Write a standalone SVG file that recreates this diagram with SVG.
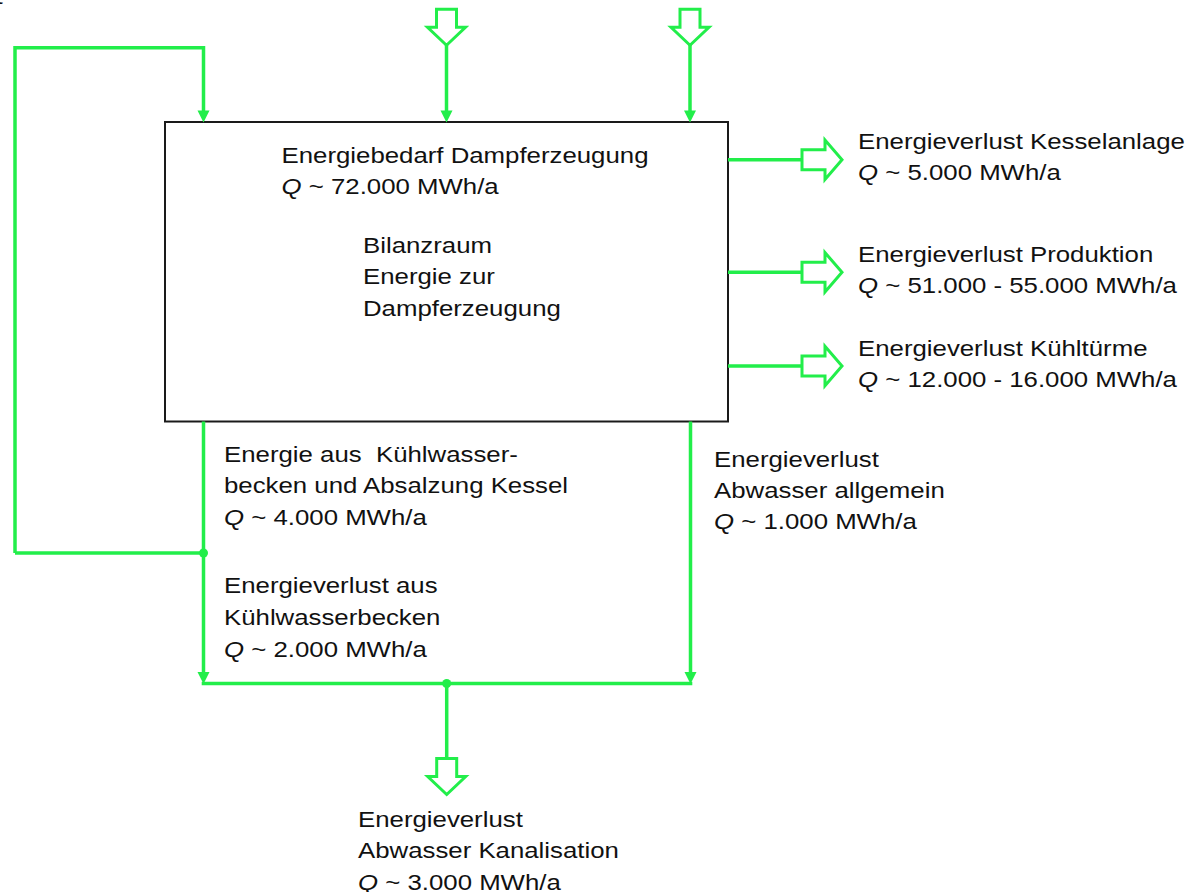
<svg xmlns="http://www.w3.org/2000/svg" xmlns:xlink="http://www.w3.org/1999/xlink" width="1190" height="892" viewBox="0 0 1190 892">
<style>
  .t { font-family: "Liberation Sans", Arial, Helvetica, sans-serif; font-size: 21.5px; fill: #111111; white-space: pre; }
  .q { font-style: italic; }
  .ln { fill: none; stroke: #22ee4a; stroke-width: 3.5; stroke-linejoin: miter; }
  .ha { fill: #ffffff; stroke: #22ee4a; stroke-width: 3; stroke-linejoin: miter; }
  .ah { fill: #22ee4a; stroke: none; }
  .box { fill: #ffffff; stroke: #1a1a1a; stroke-width: 2; }
</style>
<defs>
  <path id="tri" d="M0,0 L-6,-12 L6,-12 Z"/>
  <path id="hdown" d="M-10,0 H10 V18 H19 L0,36 L-19,18 H-10 Z"/>
  <path id="hright" d="M0,-10 H23 V-19.7 L40,0 L23,19.7 V10 H0 Z"/>
</defs>
<rect width="1190" height="892" fill="#ffffff"/>

<g id="top-cut-label">
  <text class="t" transform="translate(-12,-1) scale(1.2,1)"><tspan class="q">Q</tspan> ~ 72.000 MWh/a</text>
</g>

<g id="bilanzraum">
  <rect class="box" x="165" y="122" width="563" height="299.5"/>
  <text class="t" transform="translate(281.5,163.3) scale(1.2,1)"><tspan x="0" y="0">Energiebedarf Dampferzeugung</tspan><tspan x="0" y="30.5"><tspan class="q">Q</tspan> ~ 72.000 MWh/a</tspan></text>
  <text class="t" transform="translate(363,253) scale(1.2,1)"><tspan x="0" y="0">Bilanzraum</tspan><tspan x="0" y="31.5">Energie zur</tspan><tspan x="0" y="63">Dampferzeugung</tspan></text>
</g>

<g id="connectors">
  <path class="ln" d="M15,553 V47.7 H203.5 V112"/>
  <use href="#tri" class="ah" x="203.5" y="122.5"/>
  <use href="#hdown" class="ha" x="446.5" y="9.3"/>
  <path class="ln" d="M446.5,45 V112"/>
  <use href="#tri" class="ah" x="446.5" y="122.5"/>
  <use href="#hdown" class="ha" x="690" y="9.3"/>
  <path class="ln" d="M690,45 V112"/>
  <use href="#tri" class="ah" x="690" y="122.5"/>
  <path class="ln" d="M728,159.7 H802"/>
  <use href="#hright" class="ha" x="802" y="159.7"/>
  <path class="ln" d="M728,272.3 H802"/>
  <use href="#hright" class="ha" x="802" y="272.3"/>
  <path class="ln" d="M728,366 H802"/>
  <use href="#hright" class="ha" x="802" y="366"/>
  <path class="ln" d="M203.5,421.5 V674"/>
  <use href="#tri" class="ah" x="203.5" y="684"/>
  <path class="ln" d="M690.5,421.5 V674"/>
  <use href="#tri" class="ah" x="690.5" y="684"/>
  <path class="ln" d="M15,553 H203.5"/>
  <path class="ln" d="M201.7,683.5 H692.3"/>
  <path class="ln" d="M446.7,683.5 V758.5"/>
  <use href="#hdown" class="ha" x="446.7" y="758.5"/>
  <circle class="ah" cx="203.5" cy="553" r="4.5"/>
  <circle class="ah" cx="446.7" cy="683.5" r="4.5"/>
</g>

<g id="loss-kesselanlage">
  <text class="t" transform="translate(858,149.3) scale(1.2,1)"><tspan x="0" y="0">Energieverlust Kesselanlage</tspan><tspan x="0" y="30.7"><tspan class="q">Q</tspan> ~ 5.000 MWh/a</tspan></text>
</g>
<g id="loss-produktion">
  <text class="t" transform="translate(858,261.7) scale(1.2,1)"><tspan x="0" y="0">Energieverlust Produktion</tspan><tspan x="0" y="31"><tspan class="q">Q</tspan> ~ 51.000 - 55.000 MWh/a</tspan></text>
</g>
<g id="loss-kuehltuerme">
  <text class="t" transform="translate(858,356) scale(1.2,1)"><tspan x="0" y="0">Energieverlust Kühltürme</tspan><tspan x="0" y="30.7"><tspan class="q">Q</tspan> ~ 12.000 - 16.000 MWh/a</tspan></text>
</g>
<g id="energie-kuehlwasser">
  <text class="t" transform="translate(224,461.7) scale(1.2,1)"><tspan x="0" y="0">Energie aus  Kühlwasser-</tspan><tspan x="0" y="31.6">becken und Absalzung Kessel</tspan><tspan x="0" y="63.3"><tspan class="q">Q</tspan> ~ 4.000 MWh/a</tspan></text>
</g>
<g id="verlust-kuehlwasserbecken">
  <text class="t" transform="translate(224,593.3) scale(1.2,1)"><tspan x="0" y="0">Energieverlust aus</tspan><tspan x="0" y="31.7">Kühlwasserbecken</tspan><tspan x="0" y="63.4"><tspan class="q">Q</tspan> ~ 2.000 MWh/a</tspan></text>
</g>
<g id="verlust-abwasser-allgemein">
  <text class="t" transform="translate(714,466.7) scale(1.2,1)"><tspan x="0" y="0">Energieverlust</tspan><tspan x="0" y="31.6">Abwasser allgemein</tspan><tspan x="0" y="62.6"><tspan class="q">Q</tspan> ~ 1.000 MWh/a</tspan></text>
</g>
<g id="verlust-kanalisation">
  <text class="t" transform="translate(358,826.7) scale(1.2,1)"><tspan x="0" y="0">Energieverlust</tspan><tspan x="0" y="31.6">Abwasser Kanalisation</tspan><tspan x="0" y="63"><tspan class="q">Q</tspan> ~ 3.000 MWh/a</tspan></text>
</g>
</svg>
